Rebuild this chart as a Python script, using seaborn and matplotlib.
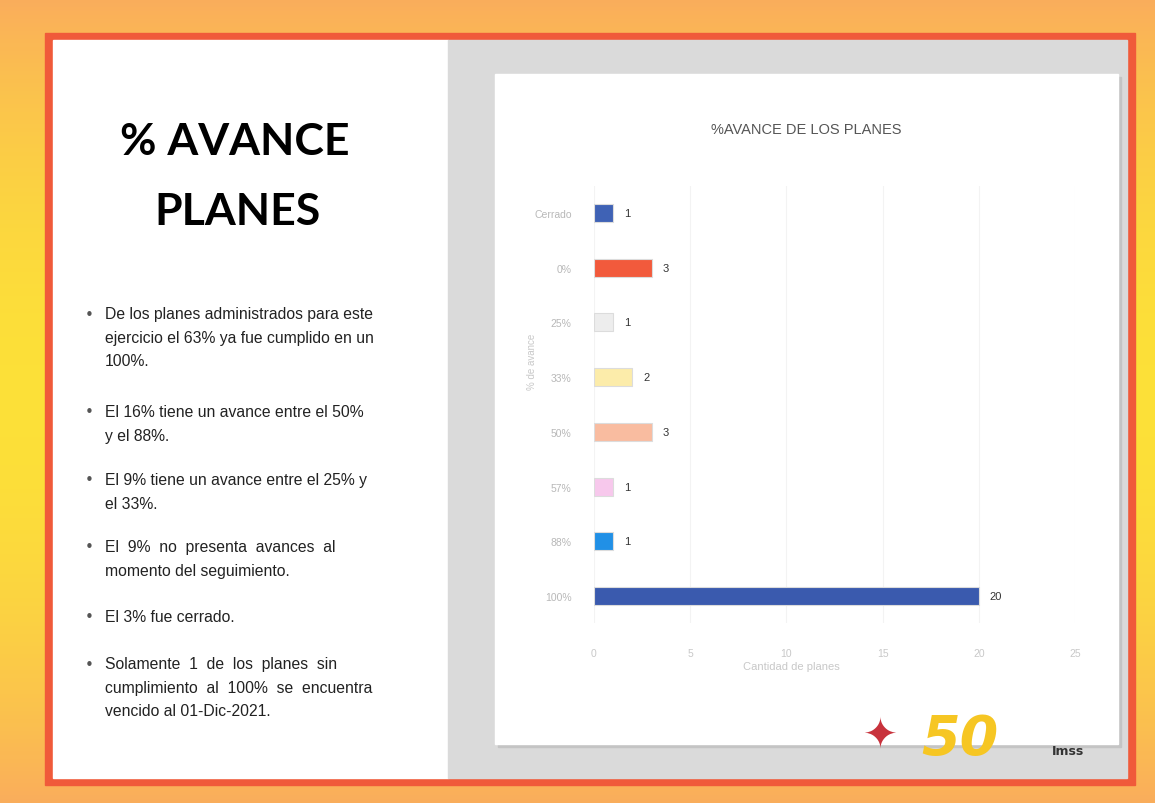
import numpy as np
import pandas as pd
import matplotlib
matplotlib.use("Agg")
import matplotlib.pyplot as plt
from matplotlib.patches import Rectangle
import seaborn as sns

# data
categorias = ["Cerrado", "0%", "25%", "33%", "50%", "57%", "88%", "100%"]
cantidad = [1, 3, 1, 2, 3, 1, 1, 20]
colores = ["#3f62b5", "#f25a3c", "#ededed", "#fcecaa", "#f9bca0", "#f7c8ec", "#2190e6", "#3a5aae"]
x_ticks = [0, 5, 10, 15, 20, 25]

bullets = [
    ["De los planes administrados para este", "ejercicio el 63% ya fue cumplido en un", "100%."],
    ["El 16% tiene un avance entre el 50%", "y el 88%."],
    ["El 9% tiene un avance entre el 25% y", "el 33%."],
    ["El  9%  no  presenta  avances  al", "momento del seguimiento."],
    ["El 3% fue cerrado."],
    ["Solamente  1  de  los  planes  sin", "cumplimiento  al  100%  se  encuentra", "vencido al 01-Dic-2021."],
]
bullet_y = [315, 413, 481, 548, 618, 665]

df = pd.DataFrame({"avance": categorias, "planes": cantidad})

W, H = 1155, 804
fig = plt.figure(figsize=(W / 100, H / 100), dpi=100)


def box(x, y, w, h, color, z):
    # pixel box (top-left origin) drawn in figure fraction
    fig.patches.append(Rectangle((x / W, 1 - (y + h) / H), w / W, h / H,
                                 transform=fig.transFigure, color=color, zorder=z))


# slide background: orange/yellow frame
bg = fig.add_axes([0, 0, 1, 1])
yy, xx = np.mgrid[0:1:200j, 0:1:200j]
edge = np.minimum(np.abs(yy - 0.5) * 2, 1)
grad = np.zeros((200, 200, 3))
top = np.array([0.98, 0.68, 0.36])
mid = np.array([0.99, 0.88, 0.22])
for i in range(3):
    grad[:, :, i] = mid[i] + (top[i] - mid[i]) * edge ** 2
bg.imshow(grad, extent=[0, 1, 0, 1], aspect="auto")
bg.set_xlim(0, 1)
bg.set_ylim(0, 1)
bg.axis("off")

box(45, 34, 1090, 752, "#f05a3a", 1)
box(53, 41, 395, 738, "white", 2)
box(448, 41, 679, 738, "#dadada", 2)
box(498, 78, 623, 670, "#c4c4c4", 3)
box(495, 75, 623, 670, "white", 4)

# left panel text
fig.text(235 / W, 1 - 142 / H, "% AVANCE", ha="center", va="center", fontsize=32,
         fontweight="bold", family=["Lato", "DejaVu Sans"], color="black", zorder=5)
fig.text(237 / W, 1 - 212 / H, "PLANES", ha="center", va="center", fontsize=32,
         fontweight="bold", family=["Lato", "DejaVu Sans"], color="black", zorder=5)

narrow = ["Liberation Sans", "DejaVu Sans"]
for lines, y0 in zip(bullets, bullet_y):
    fig.text(89 / W, 1 - y0 / H, "•", ha="center", va="center", fontsize=11,
             color="#555555", zorder=5)
    for k, line in enumerate(lines):
        fig.text(105 / W, 1 - (y0 + k * 23.5) / H, line, ha="left", va="center",
                 fontsize=11.3, family=narrow, color="#222222", zorder=5)

# chart
ax = fig.add_axes([594 / W, 1 - 624.4 / H, 481 / W, 437.8 / H], zorder=6)
ax.patch.set_alpha(0)
sns.barplot(data=df, x="planes", y="avance", hue="avance", palette=colores,
            legend=False, orient="h", width=0.33, saturation=1, ax=ax,
            edgecolor="#dcdcdc", linewidth=0.8)
for c in ax.containers:
    ax.bar_label(c, padding=8, fontsize=8, color="#333333", family=narrow)

ax.set_xlim(0, 25)
ax.set_xticks(x_ticks)
ax.tick_params(axis="x", length=0, pad=18, labelsize=7.5, labelcolor="#c8c8c8")
ax.tick_params(axis="y", length=0, pad=16, labelsize=7.5, labelcolor="#b8b8b8")
for lab in ax.get_yticklabels() + ax.get_xticklabels():
    lab.set_family(narrow)
ax.grid(axis="x", color="#f3f3f3", linewidth=0.8)
ax.set_axisbelow(True)
for s in ax.spines.values():
    s.set_visible(False)
ax.set_xlabel("Cantidad de planes", fontsize=8, color="#c8c8c8", family=narrow)
ax.xaxis.set_label_coords(0.41, -0.085)
ax.set_ylabel("% de avance", fontsize=7, color="#c8c8c8", family=narrow)
ax.yaxis.set_label_coords(-0.118, 0.6)

fig.text(806 / W, 1 - 130 / H, "%AVANCE DE LOS PLANES", ha="center", va="center",
         fontsize=10.5, family=narrow, color="#555555", zorder=7)

# logo bits
fig.text(960 / W, 1 - 740 / H, "50", ha="center", va="center", fontsize=40,
         fontweight="bold", style="italic", color="#f6c623", zorder=7)
fig.text(1068 / W, 1 - 752 / H, "Imss", ha="center", va="center", fontsize=9,
         fontweight="bold", color="#333333", zorder=7)
fig.text(880 / W, 1 - 736 / H, "✦", ha="center", va="center", fontsize=30,
         color="#c8323c", zorder=7)

fig.savefig("out.png", dpi=100)
